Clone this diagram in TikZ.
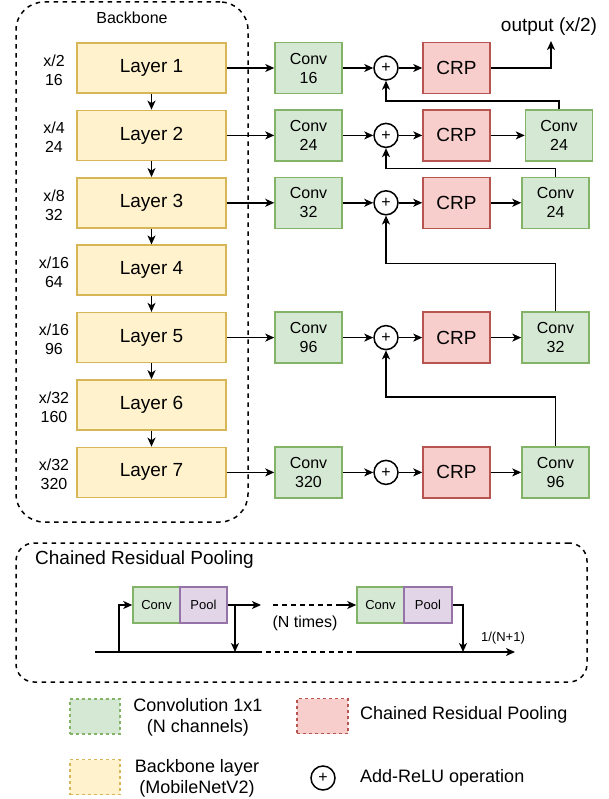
\documentclass[tikz,border=0pt]{standalone}
\usepackage{fontspec}
\setmainfont{Liberation Sans}
\usetikzlibrary{arrows.meta,calc}

\definecolor{yfill}{HTML}{FFF2CC}
\definecolor{ystroke}{HTML}{D6B656}
\definecolor{gfill}{HTML}{D5E8D4}
\definecolor{gstroke}{HTML}{82B366}
\definecolor{rfill}{HTML}{F8CECC}
\definecolor{rstroke}{HTML}{B85450}
\definecolor{pfill}{HTML}{E1D5E7}
\definecolor{pstroke}{HTML}{9673A6}

\newcommand{\fsz}[1]{\fontsize{#1}{1.2*#1}\selectfont}

\begin{document}
\begin{tikzpicture}[x=1pt,y=-1pt,
  ln/.style={line width=1.5pt},
  arr/.style={line width=1.5pt,-{Stealth[length=9pt,width=8pt,inset=2.5pt]}},
  frame/.style={draw,dashed,dash pattern=on 4.5pt off 4.5pt,line width=1.5pt,inner sep=0pt},
  layerbox/.style={draw=ystroke,fill=yfill,line width=1.5pt,minimum width=149pt,minimum height=50pt,inner sep=0pt,font=\fontsize{19}{23}\selectfont},
  convbox/.style={draw=gstroke,fill=gfill,line width=1.5pt,minimum width=67pt,minimum height=51pt,inner sep=0pt,align=center,font=\fontsize{16}{19}\selectfont},
  crpbox/.style={draw=rstroke,fill=rfill,line width=1.5pt,minimum width=67pt,minimum height=51pt,inner sep=0pt,font=\fontsize{19}{23}\selectfont},
  addop/.style={circle,draw,line width=1.5pt,minimum size=24pt,inner sep=0pt,font=\fontsize{16}{19}\selectfont},
  sidelbl/.style={align=center,inner sep=0pt,font=\fontsize{16}{19}\selectfont},
  minibox/.style={line width=1.5pt,minimum height=36pt,inner sep=0pt,font=\fontsize{13}{16}\selectfont},
  legbox/.style={draw,dashed,dash pattern=on 3pt off 3pt,line width=1.2pt,minimum width=50pt,minimum height=35pt,inner sep=0pt},
  legtext/.style={align=center,inner sep=0pt,font=\fontsize{18}{21}\selectfont},
]
\useasboundingbox (0,0) rectangle (609,799);

% ---------- backbone ----------
\node[frame,rounded corners=28pt,minimum width=232pt,minimum height=520pt] (bb) at (132,262) {};
\node[inner sep=0pt,font=\fontsize{16}{19}\selectfont] (bbtitle) at (132,18) {Backbone};

\foreach \i/\yy/\lbl in {1/68/{x/2\\16},2/135.4/{x/4\\24},3/202.8/{x/8\\32},4/270.2/{x/16\\64},5/337.6/{x/16\\96},6/405/{x/32\\160},7/472.4/{x/32\\320}}{
  \node[layerbox] (l\i) at (151.5,\yy) {Layer \i};
  \node[sidelbl] (s\i) at (54,\yy+2) {\lbl};
}
\foreach \a/\b in {1/2,2/3,3/4,4/5,5/6,6/7}{
  \draw[arr] (l\a.south) -- (l\b.north);
}

% ---------- decoder rows ----------
\foreach \i/\yy/\ch in {1/68/16,2/135.4/24,3/202.8/32,5/337.6/96,7/472.4/320}{
  \node[convbox] (c\i) at (308.5,\yy) {Conv\\\ch};
  \node[addop] (a\i) at (386,\yy) {+};
  \node[crpbox] (r\i) at (456.5,\yy) {CRP};
  \draw[arr] (l\i.east) -- (c\i.west);
  \draw[arr] (c\i.east) -- (a\i.west);
  \draw[arr] (a\i.east) -- (r\i.west);
}
\node[convbox] (d2) at (559,135.4) {Conv\\24};
\node[convbox] (d3) at (555.5,202.8) {Conv\\24};
\node[convbox] (d5) at (555.5,337.6) {Conv\\32};
\node[convbox] (d7) at (555.5,472.4) {Conv\\96};
\foreach \i in {2,3,5,7}{
  \draw[arr] (r\i.east) -- (d\i.west);
}
\draw[arr] (d2.north) -- ++(0,-8) -| (a1.south);
\draw[arr] (d3.north) -- ++(0,-8) -| (a2.south);
\draw[arr] (d5.north) -- ++(0,-48) -| (a3.south);
\draw[arr] (d7.north) -- ++(0,-49) -| (a5.south);

\node[inner sep=0pt,font=\fontsize{19}{23}\selectfont] (outlbl) at (549,27) {output (x/2)};
\coordinate (outtip) at (551,41);
\draw[arr] (r1.east) -| (outtip);

% ---------- chained residual pooling ----------
\node[frame,rounded corners=18pt,minimum width=571pt,minimum height=139pt] (crpframe) at (301.5,612.5) {};
\node[anchor=west,inner sep=0pt,font=\fontsize{19}{23}\selectfont] (crptitle) at (35,560) {Chained Residual Pooling};

\node[minibox,draw=gstroke,fill=gfill,minimum width=47pt] (cv1) at (156.5,605) {Conv};
\node[minibox,draw=pstroke,fill=pfill,minimum width=47pt] (pl1) at (203.5,605) {Pool};
\node[minibox,draw=gstroke,fill=gfill,minimum width=47pt] (cv2) at (380.5,605) {Conv};
\node[minibox,draw=pstroke,fill=pfill,minimum width=48pt] (pl2) at (428,605) {Pool};

\coordinate (ms) at (95,652);
\coordinate (mb1) at (119,652);
\coordinate (md1) at (235,652);
\coordinate (mg1) at (257,652);
\coordinate (mg2) at (357,652);
\coordinate (md2) at (463,652);
\coordinate (me) at (515,652);
\coordinate (t1) at (261,605);
\coordinate (t2) at (273,605);
\coordinate (t3) at (340,605);

\draw[ln] (ms) -- (mg1);
\draw[ln,dashed,dash pattern=on 4.5pt off 4.5pt] (mg1) -- (mg2);
\draw[arr] (mg2) -- (me);
\draw[arr] (mb1) |- (cv1.west);
\draw[arr] (pl1.east) -- (t1);
\draw[arr] (pl1.east -| md1) -- (md1);
\draw[ln,dashed,dash pattern=on 4.5pt off 4.5pt] (t2) -- (t3);
\draw[arr] (t3) -- (cv2.west);
\draw[arr] (pl2.east) -| (md2);

\node[inner sep=0pt,font=\fontsize{16}{19}\selectfont] (ntimes) at (305,623) {(N times)};
\node[inner sep=0pt,font=\fontsize{13}{16}\selectfont] (frac) at (503,638) {1/(N+1)};

% ---------- legend ----------
\node[legbox,draw=gstroke,fill=gfill] (lg1) at (95,716.5) {};
\node[legtext] (lt1) at (198,717) {Convolution 1x1\\(N channels)};
\node[legbox,draw=rstroke,fill=rfill,minimum width=51pt] (lg2) at (322.5,716) {};
\node[legtext,anchor=west] (lt2) at (360,715) {Chained Residual Pooling};
\node[legbox,draw=ystroke,fill=yfill] (lg3) at (95,777) {};
\node[legtext] (lt3) at (197,778) {Backbone layer\\(MobileNetV2)};
\node[addop] (lg4) at (323,778) {+};
\node[legtext,anchor=west] (lt4) at (360,778) {Add-ReLU operation};
\end{tikzpicture}
\end{document}
